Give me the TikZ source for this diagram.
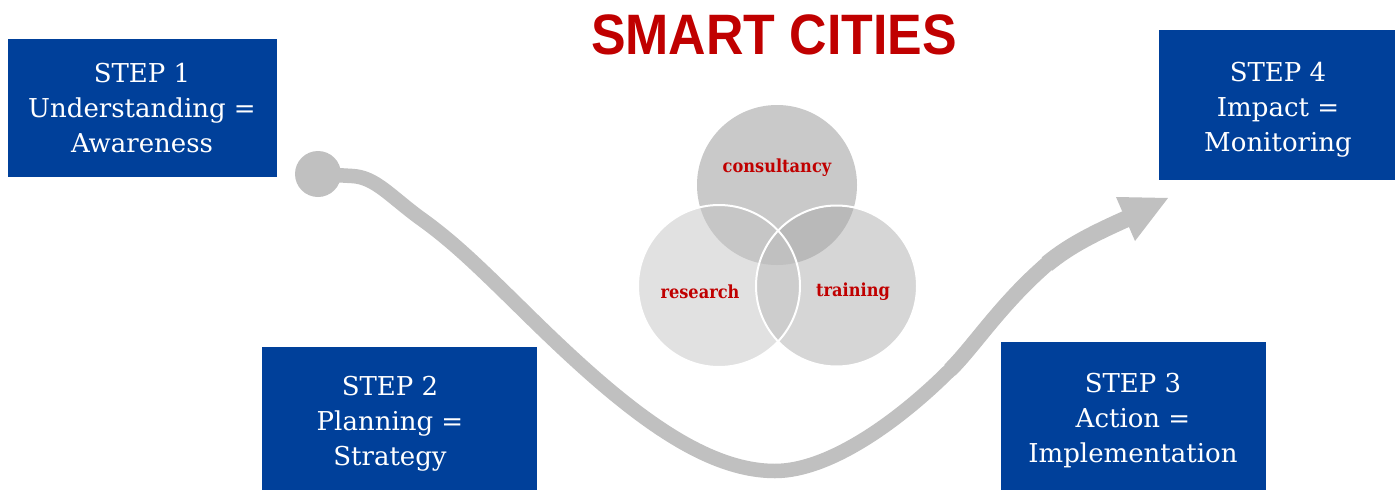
\documentclass[tikz,border=0pt]{standalone}
\usepackage{fontspec}
\setmainfont{DejaVu Serif}
\newfontfamily\titlefont{Liberation Sans}
\usepackage{graphicx}
\definecolor{boxblue}{HTML}{00409A}
\definecolor{ttlred}{HTML}{C00000}
\definecolor{pathgray}{HTML}{C0C0C0}
\definecolor{cCon}{HTML}{C9C9C9}
\definecolor{cRes}{HTML}{E1E1E1}
\definecolor{cTra}{HTML}{D6D6D6}
\definecolor{cCR}{HTML}{C6C6C6}
\definecolor{cCT}{HTML}{B9B9B9}
\definecolor{cRT}{HTML}{CDCDCD}
\definecolor{cCRT}{HTML}{C0C0C0}
\newcommand{\vennlabel}[1]{\scalebox{0.9}[1]{\fontsize{18}{20}\selectfont\bfseries #1}}
\tikzset{
  stepbox/.style={fill=boxblue, draw=none, inner sep=0pt},
  steptext/.style={text=white, align=center, font=\fontsize{26}{35}\selectfont, inner sep=0pt},
  venntext/.style={text=ttlred, inner sep=0pt},
  road/.style={draw=pathgray, line join=round}
}
\begin{document}
\begin{tikzpicture}[x=1pt,y=-1pt]
\useasboundingbox (0,0) rectangle (1395,490);
\fill[white] (0,0) rectangle (1395,490);

% title
\node[inner sep=0pt, text=ttlred] (title) at (774,35) {\scalebox{0.91}[1]{\titlefont\fontsize{57}{60}\selectfont\bfseries SMART CITIES}};

% step boxes
\node[stepbox, minimum width=269pt, minimum height=138pt] (b1) at (142.5,108) {};
\node[stepbox, minimum width=236pt, minimum height=150pt] (b4) at (1277,105) {};
\node[stepbox, minimum width=275pt, minimum height=143pt] (b2) at (399.5,418.5) {};
\node[stepbox, minimum width=265pt, minimum height=148pt] (b3) at (1133.5,416) {};

\node[steptext] (t1) at (142,108) {STEP 1\\Understanding =\\Awareness};
\node[steptext] (t4) at (1278,110) {STEP 4\\Impact =\\Monitoring};
\node[steptext] (t2) at (390,424) {STEP 2\\Planning =\\Strategy};
\node[steptext] (t3) at (1133,421) {STEP 3\\Action =\\Implementation};

% venn
\coordinate (cC) at (777,185);
\coordinate (cR) at (719,286);
\coordinate (cT) at (836.5,286);
\fill[cCon] (cC) circle (80pt);
\fill[cRes] (cR) circle (81pt);
\fill[cTra] (cT) circle (80.5pt);
\begin{scope}\clip (cR) circle (81pt); \fill[cCR] (cC) circle (80pt);\end{scope}
\begin{scope}\clip (cT) circle (80.5pt); \fill[cCT] (cC) circle (80pt);\end{scope}
\begin{scope}\clip (cR) circle (81pt); \fill[cRT] (cT) circle (80.5pt);\end{scope}
\begin{scope}\clip (cR) circle (81pt); \clip (cT) circle (80.5pt); \fill[cCRT] (cC) circle (80pt);\end{scope}
\draw[white, line width=2pt] (cR) circle (81pt);
\draw[white, line width=2pt] (cT) circle (80.5pt);
\node[venntext] (lc) at (777,168) {\vennlabel{consultancy}};
\node[venntext] (lr) at (700,292) {\vennlabel{research}};
\node[venntext] (lt) at (853,292) {\vennlabel{training}};

% road
\node[circle, fill=pathgray, minimum size=46pt, inner sep=0pt] (dot) at (318,174) {};
\coordinate (q1) at (352,176);
\coordinate (q2) at (420,218);
\coordinate (q3) at (533,320);
\coordinate (q4) at (775,471);
\coordinate (q5) at (950,370);
\coordinate (q6) at (1047,264);
\coordinate (q7) at (1126,219);
\draw[road, line width=14.5pt] (dot.center) -- (q1)
  .. controls (375,177) and (390,196) .. (q2)
  .. controls (455,243) and (480,268) .. (q3)
  .. controls (620,405) and (700,471) .. (q4)
  .. controls (830,471) and (900,420) .. (q5)
  .. controls (975,345) and (1000,305) .. (q6)
  .. controls (1070,245) and (1095,233) .. (q7);
\draw[road, line width=15.5pt] (q5)
  .. controls (975,345) and (1000,305) .. (q6)
  .. controls (1070,245) and (1095,233) .. (q7);
\draw[road, line width=17pt] (q6)
  .. controls (1070,245) and (1095,233) .. (q7);
\coordinate (h1) at (1116,197);
\coordinate (tip) at (1168,198);
\coordinate (h2) at (1135,241);
\fill[pathgray] (h1) -- (tip) -- (h2) -- cycle;
\end{tikzpicture}
\end{document}
